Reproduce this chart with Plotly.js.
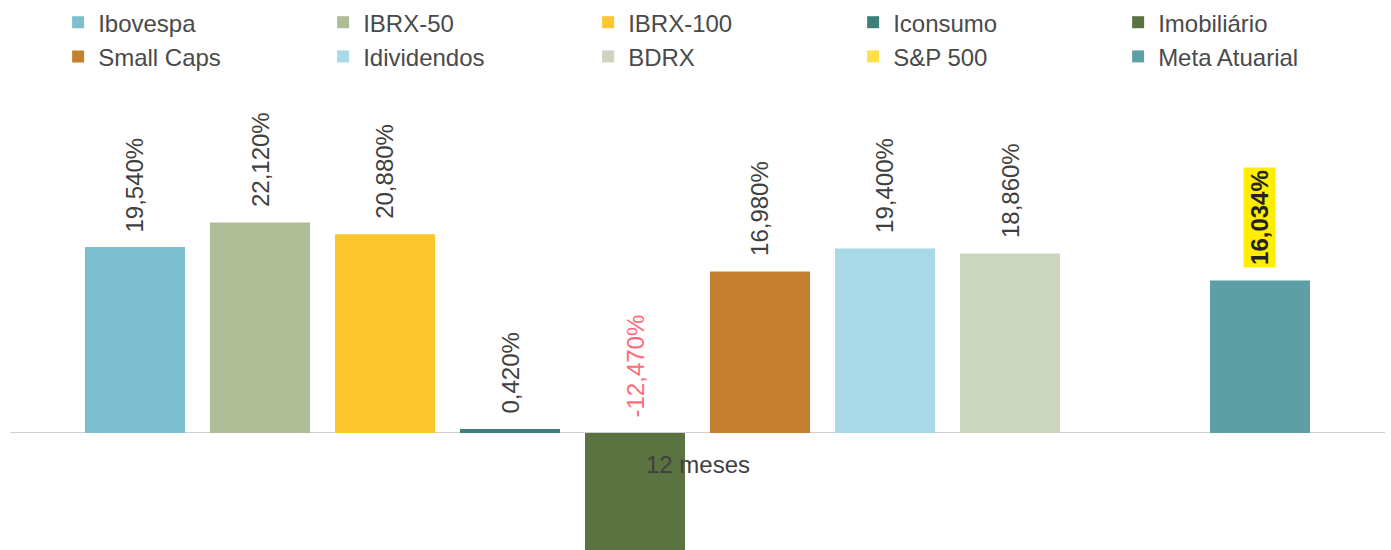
<!DOCTYPE html>
<html>
<head>
<meta charset="utf-8">
<script src="https://cdn.plot.ly/plotly-3.0.1.min.js"></script>
<style>html,body{margin:0;padding:0;background:#fff}#chart{width:1391px;height:550px}</style>
</head>
<body>
<div id="chart"></div>
<script>
const categories = ['12 meses'];
const seriesNames = ['Ibovespa','IBRX-50','IBRX-100','Iconsumo','Imobiliário','Small Caps','Idividendos','BDRX','S&P 500','Meta Atuarial'];
const seriesValues = [19.54, 22.12, 20.88, 0.42, -12.47, 16.98, 19.40, 18.86, null, 16.034];
const valueLabels = ['19,540%','22,120%','20,880%','0,420%','-12,470%','16,980%','19,400%','18,860%','','16,034%'];
const seriesColors = ['#7dbfcf','#afbd96','#fcc62f','#3f7f7a','#5a7340','#c4802f','#a9d8e7','#ccd5be','#fbe04a','#5e9fa6'];

const bargap = 0.0909;
const n = seriesNames.length;
const traces = seriesNames.map((name, i) => ({
  type: 'bar',
  name: name,
  x: categories,
  y: [seriesValues[i]],
  marker: {color: seriesColors[i]},
  hoverinfo: 'skip'
}));

const annotations = [];
seriesNames.forEach((name, i) => {
  if (seriesValues[i] === null) return;
  const isMeta = name === 'Meta Atuarial';
  const neg = seriesValues[i] < 0;
  annotations.push({
    x: (i - (n - 1) / 2) * (1 - bargap) / n,
    xref: 'x', yref: 'y',
    y: Math.max(seriesValues[i], 0),
    yshift: 12,
    yanchor: 'bottom', xanchor: 'center',
    textangle: -90,
    showarrow: false,
    text: isMeta ? '<b>' + valueLabels[i] + '</b>' : valueLabels[i],
    font: {family: 'Liberation Sans, Arial, sans-serif', size: 24, color: neg ? '#ff6b7b' : (isMeta ? '#222' : '#404040')},
    bgcolor: isMeta ? '#ffee00' : 'rgba(0,0,0,0)',
    borderpad: 2
  });
});
annotations.push({
  x: 0, xref: 'x', y: 0, yref: 'y', yshift: -32,
  text: categories[0], showarrow: false,
  xanchor: 'center', yanchor: 'middle',
  font: {family: 'Liberation Sans, Arial, sans-serif', size: 24, color: '#404040'}
});

const layout = {
  width: 1391, height: 550,
  margin: {l: 10, r: 6, t: 100, b: 0},
  paper_bgcolor: '#fff', plot_bgcolor: '#fff',
  barmode: 'group', bargap: bargap, bargroupgap: 0.2,
  font: {family: 'Liberation Sans, Arial, sans-serif', size: 24, color: '#4a4a4a'},
  xaxis: {type: 'category', showticklabels: false, showgrid: false, zeroline: false, showline: false, ticks: ''},
  yaxis: {range: [-12.3, 35], showticklabels: false, showgrid: false, zeroline: true, zerolinecolor: '#d0d0d0', zerolinewidth: 1, ticks: ''},
  showlegend: true,
  legend: {orientation: 'h', x: 0.035, xanchor: 'left', y: 1.222, yanchor: 'top', entrywidth: 220, traceorder: 'normal',
           font: {family: 'Liberation Sans, Arial, sans-serif', size: 24, color: '#4a4a4a'}, itemclick: false},
  annotations: annotations
};

Plotly.newPlot('chart', traces, layout, {displayModeBar: false, staticPlot: true});
</script>
</body>
</html>
